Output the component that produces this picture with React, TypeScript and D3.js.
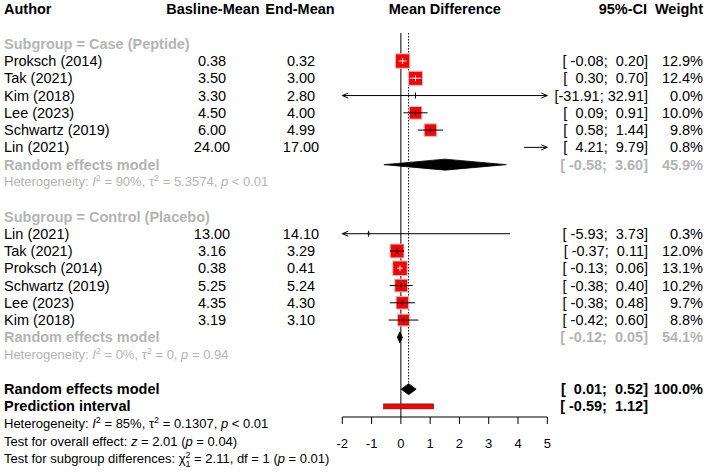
import React from 'react';
import * as d3 from 'd3';

// subgroup 1: Case (Peptide)
const authors1 = ['Proksch (2014)', 'Tak (2021)', 'Kim (2018)', 'Lee (2023)', 'Schwartz (2019)', 'Lin (2021)'];
const baseline1 = [0.38, 3.5, 3.3, 4.5, 6.0, 24.0];
const endMean1 = [0.32, 3.0, 2.8, 4.0, 4.99, 17.0];
const lower1 = [-0.08, 0.3, -31.91, 0.09, 0.58, 4.21];
const upper1 = [0.2, 0.7, 32.91, 0.91, 1.44, 9.79];
const weight1 = [12.9, 12.4, 0.0, 10.0, 9.8, 0.8];

// subgroup 2: Control (Placebo)
const authors2 = ['Lin (2021)', 'Tak (2021)', 'Proksch (2014)', 'Schwartz (2019)', 'Lee (2023)', 'Kim (2018)'];
const baseline2 = [13.0, 3.16, 0.38, 5.25, 4.35, 3.19];
const endMean2 = [14.1, 3.29, 0.41, 5.24, 4.3, 3.1];
const lower2 = [-5.93, -0.37, -0.13, -0.38, -0.38, -0.42];
const upper2 = [3.73, 0.11, 0.06, 0.4, 0.48, 0.6];
const weight2 = [0.3, 12.0, 13.1, 10.2, 9.7, 8.8];

// pooled results [lower, estimate, upper, weight]
const re1 = [-0.58, 1.51, 3.6, 45.9];
const re2 = [-0.12, -0.035, 0.05, 54.1];
const reAll = [0.01, 0.265, 0.52, 100.0];
const predInt = [-0.59, 1.12];

const xTicks = [-2, -1, 0, 1, 2, 3, 4, 5];

const GRAY = '#b4b4b4';
const FONT = 'Liberation Sans, Arial, sans-serif';
const FS = 14.5; // labels and columns
const FS_SMALL = 13; // heterogeneity / tests / tick labels

const rowY = (i: number) => 9.2 + i * 17.27;

const fmtCI = (lo: number, hi: number) =>
  `[${lo.toFixed(2).padStart(6, ' ')}; ${hi.toFixed(2).padStart(5, ' ')}]`;
const fmtW = (w: number) => `${w.toFixed(1)}%`;

const x = d3.scaleLinear().domain([-2, 5]).range([342.3, 547.3]);
const [xMin, xMax] = x.domain();

const Sup = ({ t }: { t: string }) => (
  <>
    <tspan dy={-5} fontSize={9}>{t}</tspan>
    <tspan dy={5}> </tspan>
  </>
);

const Arrow = ({ x0, y, dir }: { x0: number; y: number; dir: number }) => (
  <path
    d={`M${x0 - dir * 6},${y - 2.5} L${x0},${y} L${x0 - dir * 6},${y + 2.5}`}
    fill="none"
    stroke="black"
    strokeWidth={1}
  />
);

const Study = ({ est, lo, hi, w, y }: { est: number; lo: number; hi: number; w: number; y: number }) => {
  const side = 14.5 * Math.sqrt(w / 13.1);
  const l = Math.max(lo, xMin);
  const h = Math.min(hi, xMax);
  const inside = est >= xMin && est <= xMax;
  const span = x(hi) - x(lo);
  const lineCol = inside && span < side ? 'white' : 'black';
  return (
    <g>
      {inside && side > 1 && (
        <rect x={x(est) - side / 2} y={y - side / 2} width={side} height={side} fill="red" stroke="#c8c8c8" strokeWidth={1} />
      )}
      <line x1={x(l)} x2={x(h)} y1={y} y2={y} stroke={lineCol} strokeWidth={1} />
      {inside && <line x1={x(est)} x2={x(est)} y1={y - 3} y2={y + 3} stroke={lineCol} strokeWidth={1} />}
      {lo < xMin && <Arrow x0={x(xMin)} y={y} dir={-1} />}
      {hi > xMax && <Arrow x0={x(xMax)} y={y} dir={1} />}
    </g>
  );
};

const Diamond = ({ r, y, fill }: { r: number[]; y: number; fill: string }) => (
  <path
    d={`M${x(r[0])},${y} L${x(r[1])},${y - 5.5} L${x(r[2])},${y} L${x(r[1])},${y + 5.5} Z`}
    fill={fill}
    stroke={fill}
    strokeWidth={0.8}
  />
);

const T = (props: any) => <text dy="0.35em" xmlSpace="preserve" {...props} />;

const StudyRows = ({
  start, authors, base, end, lower, upper, weight,
}: {
  start: number; authors: string[]; base: number[]; end: number[]; lower: number[]; upper: number[]; weight: number[];
}) => (
  <g>
    {authors.map((a, i) => {
      const y = rowY(start + i);
      const est = base[i] - end[i];
      return (
        <g key={a + i}>
          <T x={4} y={y}>{a}</T>
          <T x={212} y={y} textAnchor="middle">{base[i].toFixed(2)}</T>
          <T x={301} y={y} textAnchor="middle">{end[i].toFixed(2)}</T>
          <T x={648} y={y} textAnchor="end">{fmtCI(lower[i], upper[i])}</T>
          <T x={703} y={y} textAnchor="end">{fmtW(weight[i])}</T>
          <Study est={est} lo={lower[i]} hi={upper[i]} w={weight[i]} y={y} />
        </g>
      );
    })}
  </g>
);

export default function App() {
  const axisY = 417;
  return (
    <svg
      width={708}
      height={473}
      style={{ position: 'absolute', left: 0, top: 0, background: 'white' }}
      fontFamily={FONT}
      fontSize={FS}
    >
      <g style={{ whiteSpace: 'pre' }}>
        {/* header */}
        <g fontWeight="bold">
          <T x={4} y={rowY(0)}>Author</T>
          <T x={213} y={rowY(0)} textAnchor="middle">Basline-Mean</T>
          <T x={300} y={rowY(0)} textAnchor="middle">End-Mean</T>
          <T x={x(1.5)} y={rowY(0)} textAnchor="middle">Mean Difference</T>
          <T x={647} y={rowY(0)} textAnchor="end">95%-CI</T>
          <T x={703} y={rowY(0)} textAnchor="end">Weight</T>
        </g>

        {/* reference lines */}
        <line x1={x(0)} x2={x(0)} y1={33} y2={axisY} stroke="black" strokeWidth={1} />
        <line x1={x(reAll[1])} x2={x(reAll[1])} y1={33} y2={rowY(22) - 5.5} stroke="black" strokeWidth={1} strokeDasharray="1.5 1.5" />

        {/* subgroup 1 */}
        <T x={4} y={rowY(2)} fill={GRAY} fontWeight="bold">Subgroup = Case (Peptide)</T>
        <StudyRows start={3} authors={authors1} base={baseline1} end={endMean1} lower={lower1} upper={upper1} weight={weight1} />
        <g fill={GRAY} fontWeight="bold">
          <T x={4} y={rowY(9)}>Random effects model</T>
          <T x={648} y={rowY(9)} textAnchor="end">{fmtCI(re1[0], re1[2])}</T>
          <T x={703} y={rowY(9)} textAnchor="end">{fmtW(re1[3])}</T>
        </g>
        <Diamond r={re1} y={rowY(9)} fill="black" />
        <T x={4} y={rowY(10)} fill={GRAY} fontSize={FS_SMALL}>
          Heterogeneity: <tspan fontStyle="italic">I</tspan><Sup t="2" />= 90%, τ<Sup t="2" />= 5.3574, <tspan fontStyle="italic">p</tspan> &lt; 0.01
        </T>

        {/* subgroup 2 */}
        <T x={4} y={rowY(12)} fill={GRAY} fontWeight="bold">Subgroup = Control (Placebo)</T>
        <StudyRows start={13} authors={authors2} base={baseline2} end={endMean2} lower={lower2} upper={upper2} weight={weight2} />
        <g fill={GRAY} fontWeight="bold">
          <T x={4} y={rowY(19)}>Random effects model</T>
          <T x={648} y={rowY(19)} textAnchor="end">{fmtCI(re2[0], re2[2])}</T>
          <T x={703} y={rowY(19)} textAnchor="end">{fmtW(re2[3])}</T>
        </g>
        <Diamond r={re2} y={rowY(19)} fill="black" />
        <T x={4} y={rowY(20)} fill={GRAY} fontSize={FS_SMALL}>
          Heterogeneity: <tspan fontStyle="italic">I</tspan><Sup t="2" />= 0%, τ<Sup t="2" />= 0, <tspan fontStyle="italic">p</tspan> = 0.94
        </T>

        {/* overall */}
        <g fontWeight="bold">
          <T x={4} y={rowY(22)}>Random effects model</T>
          <T x={648} y={rowY(22)} textAnchor="end">{fmtCI(reAll[0], reAll[2])}</T>
          <T x={703} y={rowY(22)} textAnchor="end">{fmtW(reAll[3])}</T>
          <T x={4} y={rowY(23)}>Prediction interval</T>
          <T x={648} y={rowY(23)} textAnchor="end">{fmtCI(predInt[0], predInt[1])}</T>
        </g>
        <Diamond r={reAll} y={rowY(22)} fill="black" />
        <rect
          x={x(predInt[0])}
          y={rowY(23) - 2.5}
          width={x(predInt[1]) - x(predInt[0])}
          height={5}
          fill="red"
          stroke="#222"
          strokeWidth={0.6}
        />

        <g fontSize={FS_SMALL}>
          <T x={4} y={rowY(24)}>
            Heterogeneity: <tspan fontStyle="italic">I</tspan><Sup t="2" />= 85%, τ<Sup t="2" />= 0.1307, <tspan fontStyle="italic">p</tspan> &lt; 0.01
          </T>
          <T x={4} y={rowY(25)}>
            Test for overall effect: <tspan fontStyle="italic">z</tspan> = 2.01 (<tspan fontStyle="italic">p</tspan> = 0.04)
          </T>
          <T x={4} y={rowY(26)}>
            Test for subgroup differences: χ<tspan dy={-5} fontSize={9}>2</tspan><tspan dx={-5} dy={9} fontSize={9}>1</tspan><tspan dy={-4}> = 2.11, df = 1 (</tspan><tspan fontStyle="italic">p</tspan> = 0.01)
          </T>
        </g>

        {/* axis */}
        <line x1={x(xMin)} x2={x(xMax)} y1={axisY} y2={axisY} stroke="black" strokeWidth={1} />
        {xTicks.map((t) => (
          <g key={t}>
            <line x1={x(t)} x2={x(t)} y1={axisY} y2={axisY + 7} stroke="black" strokeWidth={1} />
            <T x={x(t)} y={443} textAnchor="middle" fontSize={FS_SMALL}>{t}</T>
          </g>
        ))}
      </g>
    </svg>
  );
}
